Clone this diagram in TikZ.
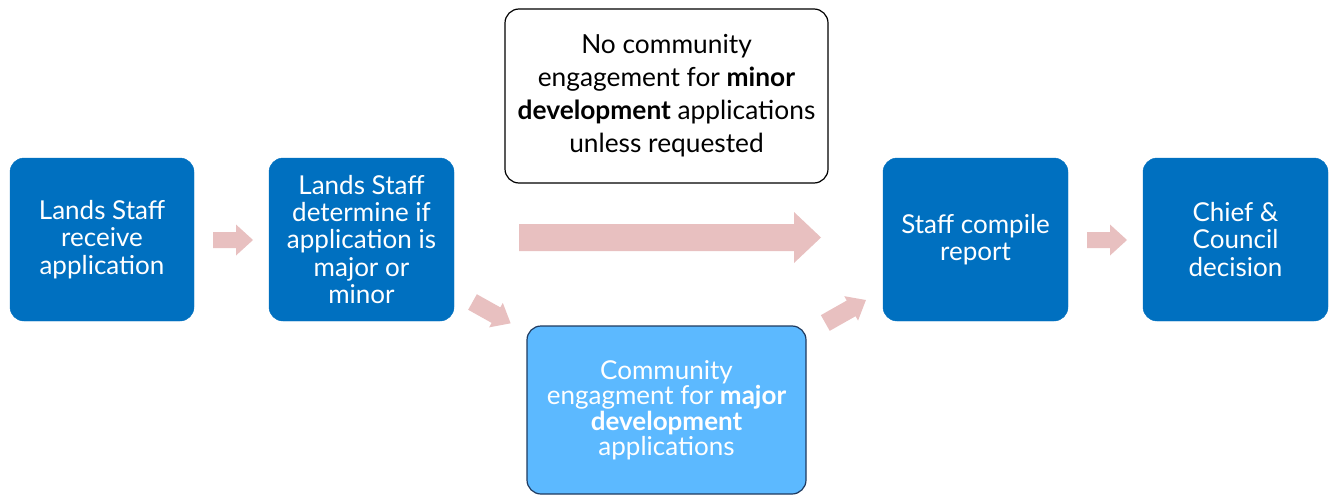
\documentclass[tikz,border=0pt]{standalone}
\usepackage{fontspec}
\setmainfont{Lato}
\definecolor{boxblue}{HTML}{0070C0}
\definecolor{lightblue}{HTML}{5CB9FF}
\definecolor{navy}{HTML}{1F3A5F}
\definecolor{arrowc}{HTML}{E8C0C0}
\tikzset{
  stepbox/.style={rounded corners=14pt, fill=boxblue, draw=boxblue, text=white, align=center,
    minimum width=185pt, minimum height=163pt, inner sep=0pt,
    font=\fontsize{26}{27.2}\selectfont},
  notebox/.style={rounded corners=14pt, fill=white, draw=black, line width=1.2pt, text=black, align=center,
    minimum width=323pt, minimum height=174pt, inner sep=0pt,
    font=\fontsize{26.3}{33}\selectfont},
  majorbox/.style={rounded corners=14pt, fill=lightblue, draw=navy, line width=1.2pt, text=white, align=center,
    minimum width=279pt, minimum height=168pt, inner sep=0pt,
    font=\fontsize{26}{25.5}\selectfont},
  blockarrow/.style={fill=arrowc}
}
\newcommand{\blockarr}[7]{% x y angle length shafthalf headhalf headlen
  \begin{scope}[shift={(#1,#2)}, rotate=#3]
    \fill[blockarrow] (0,-#5) -- ({#4-#7},-#5) -- ({#4-#7},-#6) -- (#4,0) -- ({#4-#7},#6) -- ({#4-#7},#5) -- (0,#5) -- cycle;
  \end{scope}}
\begin{document}
\begin{tikzpicture}[x=1pt,y=-1pt]
\useasboundingbox (0,0) rectangle (1333,495);
\node[stepbox, minimum width=184pt] (a) at (102,239.5) {Lands Staff\\receive\\application};
\node[stepbox] (b) at (361.5,239.5) {Lands Staff\\determine if\\application is\\major or\\minor};
\node[notebox] (note) at (666.5,96) {No community\\engagement for \textbf{minor}\\\textbf{development} applications\\unless requested};
\node[majorbox] (major) at (666.5,410) {Community\\engagment for \textbf{major}\\\textbf{development}\\applications};
\node[stepbox] (d) at (975.5,239.5) {Staff compile\\report};
\node[stepbox] (e) at (1235.5,239.5) {Chief \&\\Council\\decision};
\blockarr{213}{240}{0}{40}{8}{15.5}{17}
\blockarr{519}{237.5}{0}{302}{13.5}{25.5}{27}
\blockarr{1087}{240}{0}{40}{8}{15.5}{17}
\blockarr{472.5}{302}{-29.2}{43.7}{8.9}{14}{16.8}
\blockarr{825.3}{323}{29.5}{46.7}{9}{14}{17}
\end{tikzpicture}
\end{document}
